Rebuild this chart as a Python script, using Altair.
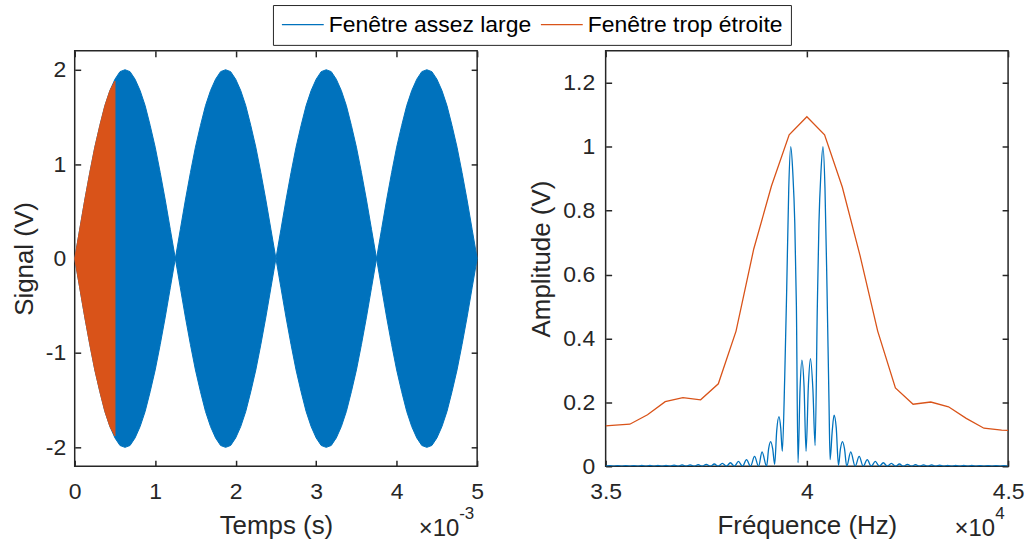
import altair as alt
import pandas as pd

FONT = "Liberation Sans"
INK = "#262626"

# ---------------- left panel: envelope of the beating signal (V) ----------------
temps_ms = [0, 0.0625, 0.125, 0.1875, 0.25, 0.3125, 0.375, 0.4375, 0.5, 0.5625,
            0.625, 0.6875, 0.75, 0.8125, 0.875, 0.9375, 1.0, 1.0625, 1.125, 1.1875,
            1.25, 1.3125, 1.375, 1.4375, 1.5, 1.5625, 1.625, 1.6875, 1.75, 1.8125,
            1.875, 1.9375, 2.0, 2.0625, 2.125, 2.1875, 2.25, 2.3125, 2.375, 2.4375,
            2.5, 2.5625, 2.625, 2.6875, 2.75, 2.8125, 2.875, 2.9375, 3.0, 3.0625,
            3.125, 3.1875, 3.25, 3.3125, 3.375, 3.4375, 3.5, 3.5625, 3.625, 3.6875,
            3.75, 3.8125, 3.875, 3.9375, 4.0, 4.0625, 4.125, 4.1875, 4.25, 4.3125,
            4.375, 4.4375, 4.5, 4.5625, 4.625, 4.6875, 4.75, 4.8125, 4.875, 4.9375, 5.0]
enveloppe_large = [0, 0.31, 0.62, 0.91, 1.18, 1.41, 1.62, 1.78, 1.90, 1.98,
                   2.00, 1.98, 1.90, 1.78, 1.62, 1.41, 1.18, 0.91, 0.62, 0.31,
                   0, 0.31, 0.62, 0.91, 1.18, 1.41, 1.62, 1.78, 1.90, 1.98,
                   2.00, 1.98, 1.90, 1.78, 1.62, 1.41, 1.18, 0.91, 0.62, 0.31,
                   0, 0.31, 0.62, 0.91, 1.18, 1.41, 1.62, 1.78, 1.90, 1.98,
                   2.00, 1.98, 1.90, 1.78, 1.62, 1.41, 1.18, 0.91, 0.62, 0.31,
                   0, 0.31, 0.62, 0.91, 1.18, 1.41, 1.62, 1.78, 1.90, 1.98,
                   2.00, 1.98, 1.90, 1.78, 1.62, 1.41, 1.18, 0.91, 0.62, 0.31, 0]
temps_ms_etroite = [0, 0.0625, 0.125, 0.1875, 0.25, 0.3125, 0.375, 0.4375, 0.5]
enveloppe_etroite = [0, 0.31, 0.62, 0.91, 1.18, 1.41, 1.62, 1.78, 1.88]

# ---------------- right panel: amplitude spectra ----------------
freq_large = [35000, 35100, 35200, 35300, 35400, 35500, 35600, 35700, 35800, 35900,
              36000, 36100, 36200, 36300, 36400, 36500, 36600, 36700, 36800, 36900,
              37000, 37100, 37200, 37300, 37400, 37500, 37600, 37700, 37800, 37900,
              38000, 38100, 38200, 38300, 38400, 38500, 38600, 38700, 38800, 38886,
              39000, 39050, 39100, 39150, 39200, 39250, 39307, 39350, 39390, 39450,
              39500, 39550, 39600, 39650, 39700, 39740, 39780, 39830, 39876, 39930,
              39980, 40040, 40090, 40150, 40205, 40260, 40300, 40350, 40400, 40450,
              40500, 40550, 40577, 40630, 40676, 40730, 40785, 40835, 40884, 40935,
              40990, 41090, 41200, 41300, 41400, 41500, 41600, 41700, 41800, 41900,
              42000, 42100, 42200, 42300, 42400, 42500, 42600, 42700, 42800, 42900,
              43000, 43100, 43200, 43300, 43400, 43500, 43600, 43700, 43800, 43900,
              44000, 44100, 44200, 44300, 44400, 44500, 44600, 44700, 44800, 44900, 45000]
ampl_large = [0, 0.002, 0, 0.002, 0, 0.002, 0, 0.002, 0, 0.0025,
              0, 0.0025, 0, 0.003, 0, 0.003, 0, 0.0035, 0, 0.004,
              0, 0.0045, 0, 0.005, 0, 0.006, 0, 0.007, 0, 0.009,
              0, 0.011, 0, 0.015, 0, 0.021, 0, 0.031, 0, 0.045,
              0, 0.055, 0.077, 0.055, 0.006, 0.11, 0.155, 0.12, 0.047, 0.28,
              0.56, 0.87, 1.0, 0.92, 0.76, 0.5, 0.011, 0.24, 0.332, 0.25,
              0.047, 0.26, 0.337, 0.24, 0.065, 0.5, 0.76, 0.92, 1.0, 0.87,
              0.56, 0.2, 0.021, 0.11, 0.16, 0.12, 0.003, 0.055, 0.077, 0.055,
              0, 0.045, 0, 0.031, 0, 0.021, 0, 0.015, 0, 0.011,
              0, 0.009, 0, 0.007, 0, 0.006, 0, 0.005, 0, 0.0045,
              0, 0.004, 0, 0.0035, 0, 0.003, 0, 0.003, 0, 0.0025,
              0, 0.0025, 0, 0.002, 0, 0.002, 0, 0.002, 0, 0.002, 0]
freq_etroite = [35000, 35160, 35600, 36040, 36480, 36920, 37360, 37800, 38240, 38680,
                39120, 39560, 40000, 40440, 40880, 41320, 41760, 42200, 42640, 43080,
                43520, 43960, 44400, 44840, 45000]
ampl_etroite = [0.1265, 0.128, 0.1315, 0.161, 0.202, 0.2145, 0.208, 0.258, 0.423, 0.68,
                0.877, 1.037, 1.094, 1.037, 0.874, 0.66, 0.423, 0.245, 0.194, 0.201,
                0.186, 0.150, 0.119, 0.113, 0.112]

series = ["Fenêtre assez large", "Fenêtre trop étroite"]
couleurs = ["#0072BD", "#D95319"]

t_ticks = [0, 0.001, 0.002, 0.003, 0.004, 0.005]
sig_ticks = [-2, -1, 0, 1, 2]
f_ticks = [35000, 40000, 45000]
amp_ticks = [0, 0.2, 0.4, 0.6, 0.8, 1.0, 1.2]

# ---------------- tables ----------------
sig_large = pd.DataFrame({"t": [v / 1000 for v in temps_ms],
                          "haut": enveloppe_large,
                          "bas": [-v for v in enveloppe_large]})
sig_etroite = pd.DataFrame({"t": [v / 1000 for v in temps_ms_etroite],
                            "haut": enveloppe_etroite,
                            "bas": [-v for v in enveloppe_etroite]})
spec_large = pd.DataFrame({"f": freq_large, "a": ampl_large, "serie": series[0]})
spec_etroite = pd.DataFrame({"f": freq_etroite, "a": ampl_etroite, "serie": series[1]})

W, H = 404, 417
TICK = 6


def label_axis(orient, values, title, label_expr, label_pad, title_pad):
    return alt.Axis(orient=orient, values=values, title=title, labelExpr=label_expr,
                    ticks=False, domain=False, grid=False,
                    labelFont=FONT, labelFontSize=23, labelColor=INK,
                    labelPadding=label_pad, labelFlush=False, labelOverlap=False,
                    titleFont=FONT, titleFontSize=26, titleColor=INK,
                    titleFontWeight="normal", titlePadding=title_pad)


def tick_axis(orient, values):
    return alt.Axis(orient=orient, values=values, title=None, labels=False,
                    domain=False, grid=False, ticks=True, tickSize=TICK,
                    tickWidth=1.5, tickColor=INK, offset=-TICK)


def exponent(main, sup, x):
    one = alt.Data(values=[{}])
    a = alt.Chart(one).mark_text(text=main, font=FONT, fontSize=24, color=INK,
                                 align="right", baseline="alphabetic").encode(
        x=alt.value(x), y=alt.value(H + 70))
    b = alt.Chart(one).mark_text(text=sup, font=FONT, fontSize=17, color=INK,
                                 align="left", baseline="alphabetic").encode(
        x=alt.value(x), y=alt.value(H + 53))
    return [a, b]


# ---------------- left panel ----------------
xs = alt.Scale(domain=[0, 0.005], nice=False, zero=False)
ys = alt.Scale(domain=[-2.2, 2.2], nice=False, zero=False)

blue_area = alt.Chart(sig_large).mark_area(
    color=couleurs[0], stroke=couleurs[0], strokeWidth=1, opacity=1).encode(
    x=alt.X("t:Q", scale=xs,
            axis=label_axis("bottom", t_ticks, "Temps (s)",
                            "format(datum.value*1000, '~g')", 14, 10)),
    y=alt.Y("haut:Q", scale=ys,
            axis=label_axis("left", sig_ticks, "Signal (V)", "datum.value + ''", 9, 8)),
    y2="bas:Q")
orange_area = alt.Chart(sig_etroite).mark_area(
    color=couleurs[1], stroke=couleurs[1], strokeWidth=1, opacity=1).encode(
    x=alt.X("t:Q", scale=xs, axis=None),
    y=alt.Y("haut:Q", scale=ys, axis=None),
    y2="bas:Q")
ticks_l1 = alt.Chart(sig_large).mark_point(opacity=0).encode(
    x=alt.X("t:Q", scale=xs, axis=tick_axis("bottom", t_ticks)),
    y=alt.Y("haut:Q", scale=ys, axis=tick_axis("left", sig_ticks)))
ticks_l2 = alt.Chart(sig_large).mark_point(opacity=0).encode(
    x=alt.X("t:Q", scale=xs, axis=tick_axis("top", t_ticks)),
    y=alt.Y("haut:Q", scale=ys, axis=tick_axis("right", sig_ticks)))

left = alt.layer(blue_area, orange_area, ticks_l1, ticks_l2,
                 *exponent("×10", "-3", W - 18)).resolve_axis(
    x="independent", y="independent").properties(width=W, height=H)

# ---------------- right panel ----------------
fsc = alt.Scale(domain=[35000, 45000], nice=False, zero=False)
asc = alt.Scale(domain=[0, 1.3], nice=False, zero=False)
color = alt.Color(
    "serie:N", scale=alt.Scale(domain=series, range=couleurs),
    legend=alt.Legend(orient="none", legendX=199, legendY=-46, direction="horizontal",
                      title=None, symbolType="M-1,0H3", symbolSize=441,
                      symbolStrokeWidth=1.2, labelFont=FONT, labelFontSize=23,
                      labelColor="#000000", labelOffset=25, labelLimit=400,
                      columnPadding=6, padding=8, strokeColor=INK,
                      fillColor="#ffffff"))

line_large = alt.Chart(spec_large).mark_line(
    strokeWidth=1.3, clip=True, interpolate="monotone").encode(
    x=alt.X("f:Q", scale=fsc,
            axis=label_axis("bottom", f_ticks, "Fréquence (Hz)",
                            "format(datum.value/10000, '~g')", 14, 10)),
    y=alt.Y("a:Q", scale=asc,
            axis=label_axis("left", amp_ticks, "Amplitude (V)",
                            "format(datum.value, '~g')", 11, 8)),
    color=color)
line_etroite = alt.Chart(spec_etroite).mark_line(strokeWidth=1.3, clip=True).encode(
    x=alt.X("f:Q", scale=fsc, axis=None),
    y=alt.Y("a:Q", scale=asc, axis=None),
    color=color)
ticks_r1 = alt.Chart(spec_etroite).mark_point(opacity=0).encode(
    x=alt.X("f:Q", scale=fsc, axis=tick_axis("bottom", f_ticks)),
    y=alt.Y("a:Q", scale=asc, axis=tick_axis("left", amp_ticks)))
ticks_r2 = alt.Chart(spec_etroite).mark_point(opacity=0).encode(
    x=alt.X("f:Q", scale=fsc, axis=tick_axis("top", f_ticks)),
    y=alt.Y("a:Q", scale=asc, axis=tick_axis("right", amp_ticks)))

right = alt.layer(line_large, line_etroite, ticks_r1, ticks_r2,
                  *exponent("×10", "4", W - 13)).resolve_axis(
    x="independent", y="independent").properties(width=W, height=H)

chart = alt.hconcat(left, right, spacing=43).properties(
    padding={"left": 10, "top": 3, "right": 5, "bottom": 5},
    background="#ffffff",
).configure_view(stroke=INK, strokeWidth=1.5)

chart.save("out.html", embed_options={"renderer": "svg", "actions": False})
